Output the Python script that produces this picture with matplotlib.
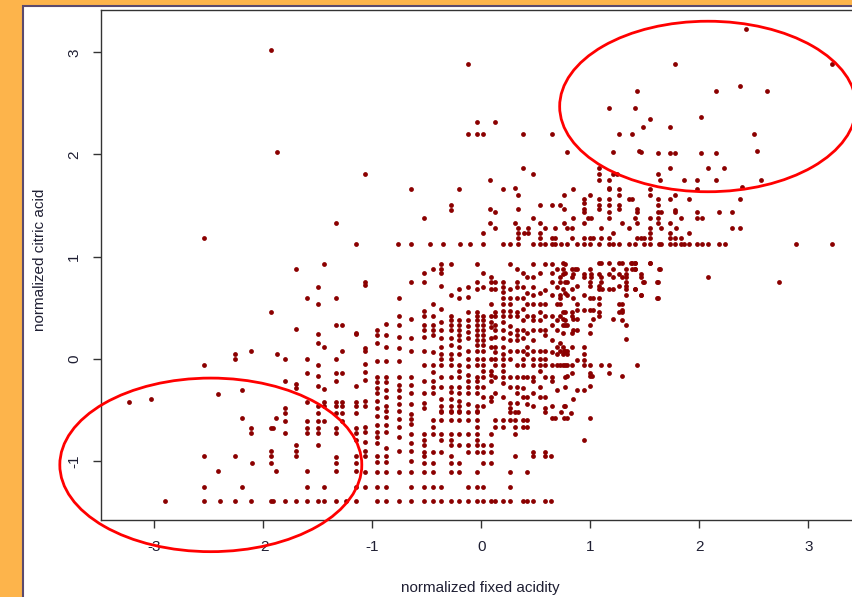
import matplotlib
matplotlib.use("Agg")
import matplotlib.pyplot as plt
from matplotlib.patches import Ellipse, Rectangle

# ── données (unités normalisées) ───────────────────────────────
# colonnes : une valeur d'acidité fixe, plusieurs valeurs d'acide citrique
column_x = [-1.15, -1.07, -0.96, -0.87, -0.75, -0.64, -0.52, -0.44, -0.37, -0.28,
            -0.20, -0.12, -0.04, 0.02, 0.09, 0.13, 0.20, 0.26, 0.33, 0.38,
            0.42, 0.48, 0.54, 0.59, 0.65, 0.70, 0.77]
column_y = [
    [0.25, -0.27, -0.42, -0.46, -0.53, -0.68, -0.73, -0.80, -0.95, -1.02, -1.10, -1.26],
    [0.75, 0.72, 0.10, 0.08, -0.05, -0.13, -0.21, -0.41, -0.46, -0.67, -0.72, -0.82, -0.90, -0.95, -1.11, -1.26],
    [0.28, 0.23, 0.15, -0.02, -0.18, -0.23, -0.29, -0.34, -0.41, -0.48, -0.56, -0.65, -0.72, -0.77, -0.83, -0.95, -1.01, -1.11, -1.26],
    [0.34, 0.23, 0.11, -0.02, -0.18, -0.23, -0.31, -0.38, -0.46, -0.51, -0.57, -0.65, -0.72, -0.87, -0.95, -1.01, -1.11, -1.26],
    [0.59, 0.42, 0.33, 0.21, 0.10, -0.02, -0.18, -0.26, -0.31, -0.38, -0.44, -0.51, -0.59, -0.67, -0.77, -0.90, -1.11],
    [0.75, 0.39, 0.20, 0.08, -0.18, -0.26, -0.34, -0.44, -0.54, -0.59, -0.64, -0.74, -0.83, -0.90, -1.00, -1.11, -1.26],
    [0.84, 0.75, 0.47, 0.42, 0.33, 0.28, 0.21, 0.08, -0.06, -0.22, -0.34, -0.43, -0.48],
    [0.88, 0.54, 0.42, 0.33, 0.28, 0.23, 0.07, -0.06, -0.13, -0.22, -0.28, -0.34],
    [0.93, 0.88, 0.84, 0.71, 0.49, 0.36, 0.28, 0.20, 0.11, 0.05, 0.00, -0.06, -0.18, -0.28, -0.39, -0.46, -0.51],
    [0.93, 0.62, 0.42, 0.38, 0.33, 0.28, 0.20, 0.13, 0.05, 0.00, -0.06, -0.18, -0.28, -0.33, -0.39, -0.46, -0.51],
    [0.68, 0.59, 0.38, 0.33, 0.28, 0.23, 0.18, 0.11, 0.05, -0.06, -0.12, -0.18, -0.28, -0.34, -0.41, -0.46, -0.51],
    [0.70, 0.60, 0.46, 0.38, 0.32, 0.26, 0.20, 0.08, 0.00, -0.07, -0.16, -0.22, -0.28, -0.34, -0.44],
    [0.93, 0.75, 0.68, 0.46, 0.42, 0.38, 0.33, 0.28, 0.23, 0.18, 0.13, 0.08, 0.00, -0.06, -0.18, -0.22, -0.28, -0.34, -0.46, -0.51],
    [0.84, 0.70, 0.42, 0.38, 0.33, 0.28, 0.23, 0.18, 0.13, 0.08, 0.00, -0.06, -0.12, -0.18, -0.28, -0.38, -0.46],
    [0.80, 0.75, 0.68, 0.54, 0.42, 0.36, 0.31, 0.20, 0.11, 0.00, -0.12, -0.16, -0.22, -0.38, -0.41],
    [0.75, 0.68, 0.46, 0.42, 0.33, 0.28, 0.21, 0.11, 0.07, 0.00, -0.06, -0.18, -0.34],
    [0.75, 0.70, 0.65, 0.59, 0.54, 0.47, 0.42, 0.36, 0.28, 0.20, 0.11, 0.05, 0.00, -0.06, -0.12, -0.18, -0.24, -0.38],
    [0.93, 0.68, 0.59, 0.54, 0.47, 0.42, 0.32, 0.25, 0.18, 0.08, 0.00, -0.18, -0.28, -0.43, -0.48],
    [0.88, 0.75, 0.70, 0.59, 0.46, 0.42, 0.28, 0.23, 0.18, 0.08, -0.06, -0.18, -0.28, -0.34, -0.43],
    [0.84, 0.70, 0.59, 0.49, 0.38, 0.28, 0.20, 0.08, 0.00, -0.06, -0.18, -0.29, -0.38],
    [0.80, 0.64, 0.54, 0.42, 0.25, 0.11, 0.05, -0.18, -0.38, -0.44],
    [0.93, 0.80, 0.70, 0.62, 0.54, 0.42, 0.38, 0.28, 0.18, 0.08, 0.00, -0.06, -0.18, -0.22, -0.34, -0.46],
    [0.84, 0.64, 0.54, 0.46, 0.38, 0.28, 0.08, 0.00, -0.06, -0.12, -0.28, -0.38],
    [0.93, 0.67, 0.54, 0.42, 0.28, 0.23, 0.08, 0.00, -0.06, -0.18, -0.38, -0.48],
    [0.93, 0.84, 0.75, 0.62, 0.42, 0.33, 0.18, 0.07, -0.06, -0.18, -0.22, -0.46],
    [0.88, 0.70, 0.54, 0.38, 0.28, 0.11, 0.05, -0.06, -0.31],
    [0.93, 0.84, 0.75, 0.64, 0.46, 0.38, 0.33, 0.08, -0.06, -0.18, -0.28, -0.46],
]

# lignes : une valeur d'acide citrique, plusieurs valeurs d'acidité fixe
row_y = [1.12, 0.94, 0.88, 0.83, 0.80, 0.75, 0.71, 0.68, 0.62, 0.59, 0.54, 0.48,
         0.46, 0.42, 0.39, 0.38, 0.33, 0.28, 0.25, 0.19, 0.15, 0.11, 0.08, 0.05,
         -0.01, -0.06, -0.14, -0.17, -0.27, -0.31, -0.39, -0.46, -0.53, -0.58,
         -0.52, -0.60, -0.67, -0.74, -0.80, -0.85, -0.91, -0.95, -1.02, -1.11, -1.26, -1.39]
row_x = [
    [-0.76, -0.64, -0.47, -0.35, -0.19, -0.10, 0.02, 0.20, 0.26, 0.34, 0.48, 0.54, 0.59, 0.65,
     0.68, 0.73, 0.79, 0.88, 0.94, 1.00, 1.08, 1.17, 1.21, 1.26, 1.36, 1.41, 1.49, 1.55, 1.63,
     1.65, 1.73, 1.78, 1.83, 1.86, 1.91, 1.98, 2.03, 2.08, 2.18, 2.24, 2.89, 3.22],
    [0.75, 1.08, 1.10, 1.17, 1.26, 1.29, 1.37, 1.41, 1.55],
    [0.75, 0.83, 0.86, 0.88, 1.00, 1.21, 1.33, 1.41, 1.63],
    [0.75, 0.84, 0.94, 1.01, 1.08, 1.17, 1.26, 1.33, 1.47],
    [0.72, 0.83, 0.94, 1.01, 1.10, 1.21, 1.29, 1.33],
    [0.72, 0.79, 1.00, 1.10, 1.33, 1.48, 1.61],
    [0.88, 1.00, 1.08, 1.26, 1.33],
    [0.75, 0.83, 1.08, 1.11, 1.17, 1.21, 1.33, 1.41],
    [0.72, 0.79, 0.94, 1.33, 1.47],
    [0.72, 0.84, 1.00, 1.03, 1.08, 1.61],
    [0.72, 0.88, 1.08, 1.26, 1.29],
    [0.88, 0.94, 1.00, 1.03, 1.29],
    [0.75, 0.83, 1.08, 1.26, 1.29],
    [0.72, 0.83, 1.08],
    [0.75, 0.84, 0.88, 1.03, 1.21],
    [1.29],
    [0.75, 0.79, 1.00, 1.33],
    [0.84, 0.88],
    [0.75, 0.83, 1.00],
    [1.33],
    [0.72],
    [0.75, 0.83, 0.94],
    [0.72, 0.76, 0.79],
    [0.75, 0.79, 0.94],
    [0.88, 0.94],
    [0.72, 0.75, 0.79, 0.83, 0.94, 1.00, 1.10, 1.17, 1.43],
    [0.83, 1.00, 1.17],
    [0.79, 1.00, 1.02, 1.29],
    [1.00],
    [0.88, 0.94],
    [0.84],
    [0.76],
    [0.82],
    [0.65, 0.68, 0.76, 0.79, 1.00],
    [-0.37, -0.28, -0.20, -0.12, -0.04, 0.26, 0.31, 0.34, 0.59, 0.73],
    [-0.44, -0.37, -0.28, -0.20, -0.12, -0.04, 0.13, 0.20, 0.26, 0.31, 0.38, 0.42],
    [-0.44, -0.04, 0.13, 0.20, 0.31, 0.38, 0.42],
    [-0.52, -0.44, -0.37, -0.28, -0.20, -0.12, -0.04, 0.09, 0.31],
    [-0.52, -0.37, -0.28, -0.04, 0.94],
    [-0.52, -0.28, -0.20, -0.12, -0.04, 0.02, 0.09],
    [-0.52, -0.44, -0.37, -0.12, -0.04, 0.02, 0.09, 0.48, 0.59],
    [-0.52, -0.28, 0.31, 0.48, 0.59, 0.64],
    [-0.52, -0.44, -0.28, -0.20, 0.02, 0.09],
    [-0.52, -0.44, -0.28, -0.20, -0.04, 0.26, 0.42],
    [-0.52, -0.44, -0.37, -0.12, -0.04, 0.02, 0.26],
    [-2.90, -2.54, -2.40, -2.26, -2.11, -1.93, -1.91, -1.80, -1.70, -1.60, -1.50, -1.44, -1.33,
     -1.24, -1.15, -0.96, -0.87, -0.75, -0.64, -0.52, -0.44, -0.37, -0.28, -0.20, -0.12, -0.04,
     0.02, 0.09, 0.13, 0.20, 0.26, 0.38, 0.42, 0.48, 0.59, 0.64],
]

# points isolés, par zone
upper_left_points = [(-1.93, 3.02), (-0.12, 2.89), (-0.04, 2.32), (-0.12, 2.20), (-0.04, 2.20),
                     (-1.87, 2.02), (-1.07, 1.81), (-0.64, 1.66), (-0.20, 1.66), (-0.28, 1.51),
                     (-0.28, 1.46), (-0.52, 1.38), (-1.33, 1.33), (-2.54, 1.18)]

upper_right_points = [(2.43, 3.23), (1.78, 2.89), (3.22, 2.89), (1.43, 2.62), (2.15, 2.62), (2.37, 2.67),
                      (2.62, 2.62), (1.17, 2.46), (1.41, 2.46), (1.55, 2.35), (2.02, 2.37), (1.48, 2.27),
                      (1.73, 2.27), (2.50, 2.20), (1.47, 2.02), (1.62, 2.01), (1.73, 2.01), (1.78, 2.01),
                      (2.02, 2.01), (2.15, 2.01), (2.53, 2.03), (1.73, 1.87), (2.08, 1.87), (2.23, 1.87),
                      (1.62, 1.81), (1.64, 1.75), (1.86, 1.75), (1.98, 1.75), (2.15, 1.75), (2.57, 1.75),
                      (1.98, 1.66), (2.39, 1.68), (1.17, 1.75), (1.17, 1.66), (1.26, 1.66), (1.26, 1.60),
                      (1.55, 1.66), (1.55, 1.60), (1.78, 1.60), (2.37, 1.56), (1.62, 1.56), (1.73, 1.56),
                      (1.91, 1.56), (1.36, 1.56)]

upper_middle_points = [(0.13, 2.32), (0.02, 2.20), (0.38, 2.20), (0.65, 2.20), (1.26, 2.20), (1.38, 2.20),
                       (0.79, 2.02), (1.21, 2.02), (1.45, 2.03), (0.38, 1.87), (0.48, 1.81), (1.08, 1.87),
                       (1.08, 1.81), (1.08, 1.75), (1.21, 1.81), (1.25, 1.81), (0.08, 1.75), (0.20, 1.66),
                       (0.31, 1.67), (0.34, 1.60), (0.84, 1.66), (1.17, 1.67), (0.76, 1.60), (1.00, 1.60),
                       (0.94, 1.56), (0.94, 1.52), (0.94, 1.47), (0.94, 1.44), (1.08, 1.56), (1.17, 1.56),
                       (1.38, 1.56), (0.54, 1.51), (0.65, 1.51), (0.72, 1.51), (0.76, 1.47), (1.08, 1.51),
                       (1.08, 1.47), (1.17, 1.51), (1.26, 1.51), (1.26, 1.47), (1.43, 1.47), (1.43, 1.44),
                       (0.08, 1.47), (0.13, 1.44), (0.34, 1.47), (0.48, 1.38), (0.84, 1.38), (0.98, 1.38),
                       (1.01, 1.38), (1.17, 1.44), (1.17, 1.38), (1.41, 1.38), (0.08, 1.33), (0.13, 1.28),
                       (0.02, 1.23), (0.31, 1.33), (0.34, 1.28), (0.43, 1.28), (0.54, 1.33), (0.59, 1.28),
                       (0.68, 1.28), (0.76, 1.33), (0.79, 1.28), (0.83, 1.28), (0.94, 1.33), (1.10, 1.28),
                       (1.29, 1.33), (1.36, 1.28), (1.43, 1.33), (0.34, 1.23), (0.39, 1.23), (0.43, 1.23),
                       (0.34, 1.18), (0.54, 1.23), (0.54, 1.18), (0.65, 1.18), (0.68, 1.18), (0.83, 1.18),
                       (0.94, 1.18), (1.00, 1.18), (1.03, 1.18), (1.10, 1.18), (1.17, 1.18), (1.21, 1.23),
                       (1.43, 1.18)]

right_points = [(1.62, 1.51), (1.65, 1.44), (1.62, 1.44), (1.78, 1.46), (1.78, 1.44), (1.98, 1.44),
                (2.18, 1.44), (2.30, 1.44), (1.55, 1.38), (1.62, 1.38), (1.83, 1.38), (1.98, 1.38),
                (2.03, 1.38), (1.62, 1.33), (1.73, 1.33), (1.55, 1.28), (1.65, 1.28), (1.79, 1.28),
                (2.30, 1.28), (2.37, 1.28), (1.55, 1.23), (1.73, 1.23), (1.91, 1.23), (1.47, 1.18),
                (1.49, 1.18), (1.55, 1.18), (1.73, 1.18), (1.78, 1.18), (1.83, 1.18), (1.38, 0.94),
                (1.41, 0.94), (1.55, 0.94), (1.38, 0.88), (1.41, 0.88), (1.64, 0.88), (1.47, 0.80),
                (1.49, 0.75), (1.62, 0.75), (2.08, 0.80), (2.73, 0.75), (1.41, 0.68), (1.47, 0.62),
                (1.62, 0.59)]

left_points = [(-1.15, 1.12), (-1.44, 0.93), (-1.70, 0.88), (-1.50, 0.70), (-1.60, 0.59), (-1.50, 0.54),
               (-1.33, 0.59), (-1.93, 0.46), (-1.33, 0.33), (-1.28, 0.33), (-1.70, 0.29), (-1.50, 0.24),
               (-1.15, 0.24), (-1.50, 0.15), (-1.44, 0.11), (-1.28, 0.08), (-2.26, 0.05), (-2.11, 0.08),
               (-1.87, 0.05), (-2.26, 0.00), (-1.80, 0.00), (-1.60, 0.00), (-1.33, 0.00), (-2.54, -0.06),
               (-1.50, -0.06), (-1.60, -0.14), (-1.33, -0.14), (-1.28, -0.14), (-1.50, -0.17), (-1.80, -0.22),
               (-1.70, -0.25), (-1.70, -0.29), (-1.50, -0.27), (-1.44, -0.30), (-1.33, -0.22), (-2.41, -0.35),
               (-2.19, -0.31), (-3.23, -0.42), (-3.03, -0.39), (-1.60, -0.42), (-1.50, -0.46), (-1.44, -0.42),
               (-1.44, -0.46), (-1.33, -0.42), (-1.33, -0.46), (-1.28, -0.42), (-1.28, -0.46), (-1.80, -0.48),
               (-1.80, -0.53), (-1.88, -0.58), (-1.80, -0.61), (-2.19, -0.58), (-2.11, -0.68), (-2.11, -0.73),
               (-1.93, -0.68), (-1.91, -0.68), (-1.80, -0.73), (-1.60, -0.61), (-1.50, -0.61), (-1.44, -0.61),
               (-1.60, -0.68), (-1.50, -0.68), (-1.60, -0.73), (-1.50, -0.73), (-1.33, -0.68), (-1.33, -0.73),
               (-1.28, -0.61), (-1.33, -0.53), (-1.28, -0.53), (-1.50, -0.53), (-1.70, -0.85), (-1.70, -0.90),
               (-1.70, -0.95), (-1.93, -0.90), (-1.93, -0.95), (-1.93, -1.02), (-2.10, -1.02), (-1.50, -0.85),
               (-1.33, -0.96), (-1.33, -1.02), (-2.54, -0.95), (-2.26, -0.95), (-2.41, -1.10), (-1.88, -1.10),
               (-1.60, -1.10), (-1.33, -1.10), (-2.54, -1.26), (-2.19, -1.26), (-1.60, -1.26), (-1.44, -1.26)]

# ellipses rouges d'annotation (centre x, centre y, largeur, hauteur)
ellipse_haut = (2.08, 2.47, 2.72, 1.67)
ellipse_bas = (-2.48, -1.04, 2.77, 1.70)

# ── assemblage des points ──────────────────────────────────
x_pts = []
y_pts = []
for cx, ys in zip(column_x, column_y):
    x_pts += [cx] * len(ys)
    y_pts += ys
for ry, xs in zip(row_y, row_x):
    x_pts += xs
    y_pts += [ry] * len(xs)
for groupe in (upper_left_points, upper_right_points, upper_middle_points, right_points, left_points):
    for px, py in groupe:
        x_pts.append(px)
        y_pts.append(py)

plt.rcParams['font.family'] = ['Liberation Sans', 'DejaVu Sans']
plt.rcParams['axes.unicode_minus'] = False

fig = plt.figure(figsize=(8.53, 5.97), dpi=100, facecolor='#fdb44b')

# panneau blanc de la diapositive (derrière les axes)
fig.patches.append(Rectangle((23.3 / 853, -0.1), 1.2, (597 - 6) / 597 + 0.1,
                             transform=fig.transFigure, facecolor='white',
                             edgecolor='#5b4a6e', linewidth=1.5, zorder=-10))

ax = fig.add_axes([100.7 / 853, 77.5 / 597, 765.3 / 853, 509.5 / 597])
ax.set_zorder(5)
ax.set_facecolor('white')
ax.scatter(x_pts, y_pts, s=12, c='#8b0000', linewidths=0, zorder=3)

ax.set_xlim(-3.49, 3.53)
ax.set_ylim(-1.575, 3.415)
ax.set_xticks([-3, -2, -1, 0, 1, 2, 3])
ax.set_yticks([-1, 0, 1, 2, 3])
for s in ax.spines.values():
    s.set_color('#333333')
    s.set_linewidth(1.0)

ax.tick_params(axis='both', direction='out', length=6, width=1.0, color='#333333',
               labelsize=11, labelcolor='#1f1f33')
ax.tick_params(axis='x', pad=8.5)
ax.tick_params(axis='y', pad=8)
plt.setp(ax.get_yticklabels(), rotation=90, va='center')

ax.set_xlabel('normalized fixed acidity', fontsize=11, color='#1f1f33')
ax.xaxis.set_label_coords(0.496, -0.121)
ax.set_ylabel('normalized citric acid', fontsize=11, color='#1f1f33')
ax.yaxis.set_label_coords((47 - 100.7) / 765.3, 0.509)

for cx, cy, w, h in (ellipse_haut, ellipse_bas):
    ax.add_patch(Ellipse((cx, cy), w, h, fill=False, edgecolor='#ff0000',
                         linewidth=2.0, clip_on=False, zorder=6))

fig.savefig('out.png', dpi=100, facecolor=fig.get_facecolor())
